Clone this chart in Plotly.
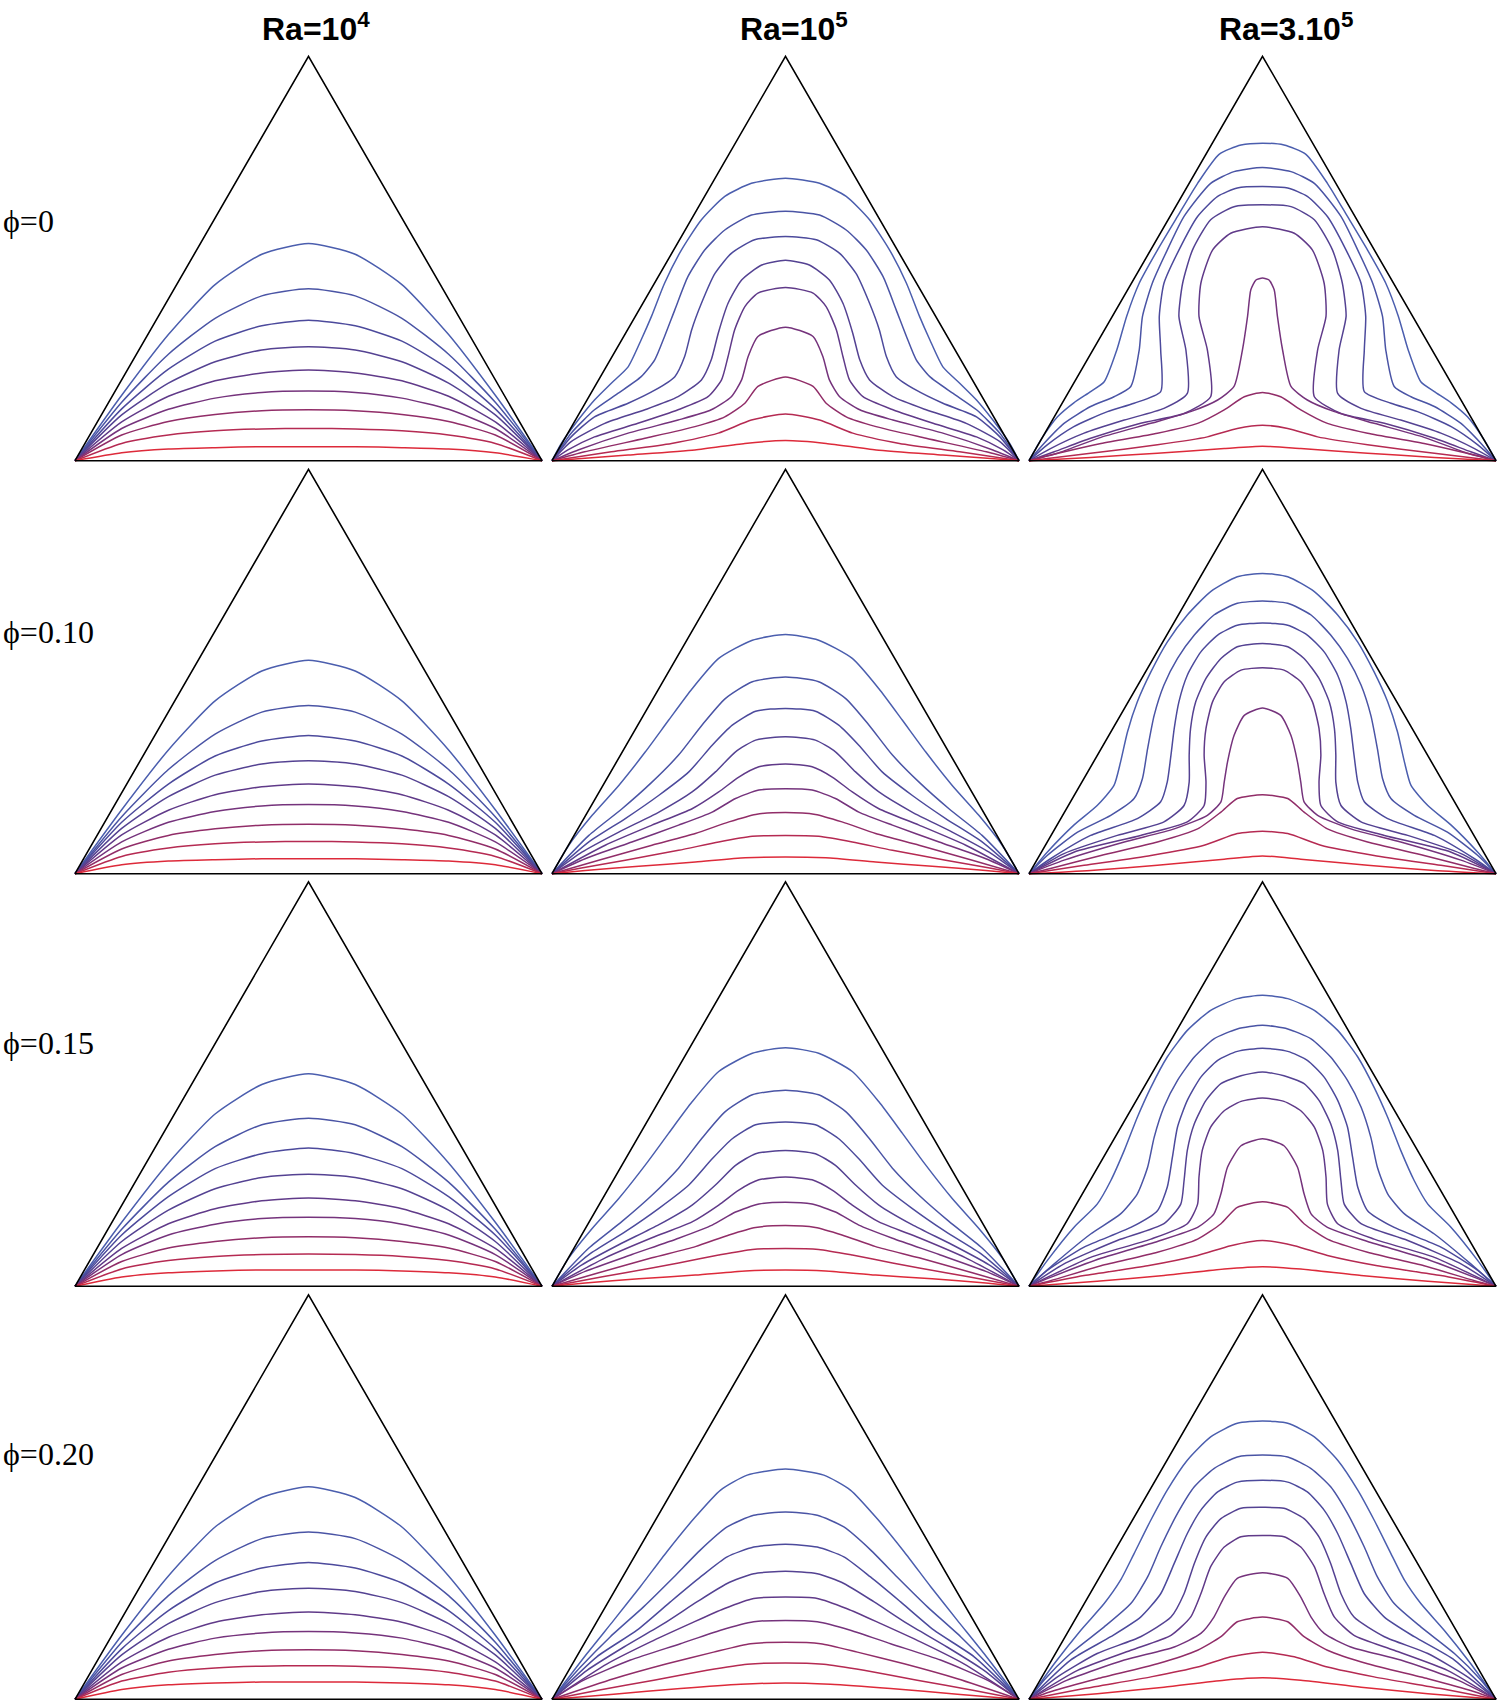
import plotly.graph_objects as go

# ---------------- data ----------------
COL_TITLES = ["<b>Ra=10<sup>4</sup></b>", "<b>Ra=10<sup>5</sup></b>", "<b>Ra=3.10<sup>5</sup></b>"]
ROW_LABELS = ["ϕ=0", "ϕ=0.10", "ϕ=0.15", "ϕ=0.20"]

# triangular cavity outline (base = 100 units, equilateral)
TRI_X = [0, 50, 100, 0]
TRI_Y = [0, 86.6, 0, 0]

# isotherms: left half of each line, from the bottom-left corner to the centre line,
# as [x, y] points (cavity base = 100 units); lines listed top (cold) -> bottom (hot)
R1_C1 = [
    [[10, 14.0], [20, 27.0], [30, 37.7], [40, 44.2], [50, 46.5]],
    [[10, 12.5], [20, 22.8], [30, 30.5], [40, 35.3], [50, 36.8]],
    [[10, 11.1], [20, 19.6], [30, 25.6], [40, 28.9], [50, 30.1]],
    [[10, 9.8], [20, 16.6], [30, 21.2], [40, 23.7], [50, 24.4]],
    [[10, 8.3], [20, 13.8], [30, 17.1], [40, 18.8], [50, 19.4]],
    [[10, 6.9], [20, 11.0], [30, 13.4], [40, 14.6], [50, 14.9]],
    [[10, 5.5], [20, 8.4], [30, 9.9], [40, 10.7], [50, 10.9]],
    [[10, 3.7], [20, 5.5], [30, 6.4], [40, 6.8], [50, 6.9]],
    [[10, 1.7], [20, 2.5], [30, 2.8], [40, 3.0], [50, 3.0]],
]
R1_C2 = [
    [[2, 3.7], [5.6, 8.7], [9.1, 13], [12.7, 16.6], [16.3, 20.1], [19.1, 25.9], [21.3, 30.9], [24.1, 38], [27.7, 45.1], [32, 51.6], [37, 56.6], [42.7, 59.4], [50, 60.5]],
    [[4.1, 5.9], [9.1, 10.9], [14.1, 14.4], [19.1, 18], [22, 21.6], [24.1, 26.6], [26.3, 32.3], [29.1, 39.4], [32.7, 45.1], [37, 49.4], [42.7, 52.6], [50, 53.4]],
    [[4.1, 5.1], [9.1, 9.4], [16.3, 12.3], [22, 15.1], [26.3, 18], [28.4, 22.3], [29.9, 28], [32, 33.7], [34.9, 40.1], [38.4, 44.4], [43.4, 47.3], [50, 48]],
    [[4.1, 4.1], [11.3, 8], [19.9, 10.9], [27, 13.7], [32, 17.3], [34.1, 21.6], [35.6, 27.3], [37.7, 33.7], [40.6, 38.7], [44.9, 41.9], [50, 42.9]],
    [[3.4, 2.3], [9.1, 5.1], [18.4, 8], [27, 10.9], [33.4, 13.7], [36.3, 17.3], [37.7, 22.3], [39.1, 28], [41.3, 33], [44.1, 35.9], [50, 37.1]],
    [[5.6, 2.3], [16.3, 5.9], [27, 8.7], [34.1, 10.9], [38.4, 13.7], [40.6, 17.3], [42, 22.3], [44.1, 26.6], [50, 28.6]],
    [[7, 1.9], [19.9, 4.8], [30.6, 7.3], [37, 9.4], [41.3, 12.3], [44.1, 15.9], [50, 17.9]],
    [[12.7, 1.9], [25.6, 3.7], [35.6, 5.9], [42.7, 8.7], [50, 10]],
    [[16.3, 1.2], [30.6, 2.3], [41.3, 3.7], [50, 4.3]],
]
R1_C3 = [
    [[2.5, 4.4], [6.1, 9.4], [9.6, 12.4], [13.2, 14.8], [16.1, 16.9], [18.8, 23.7], [20.9, 30.9], [23.6, 38], [27.5, 45.1], [31.8, 52.3], [36.1, 59.4], [40.7, 65.6], [45.4, 67.6], [50, 68]],
    [[3.2, 3.7], [7.5, 8], [13.2, 11.6], [18.2, 13.7], [21.8, 15.9], [23.6, 23.7], [24.3, 30.9], [26.4, 38], [29.6, 45.1], [33.2, 52.3], [38.9, 59.4], [43.9, 61.9], [50, 62.8]],
    [[3.9, 3.4], [9.6, 7.3], [16.8, 10.5], [22.5, 12.3], [28.2, 14.8], [28.2, 23.7], [27.9, 30.9], [28.9, 38], [32.1, 45.1], [36.1, 52.3], [40.4, 56.6], [44.6, 58.4], [50, 58.7]],
    [[4.6, 2.6], [11.8, 5.9], [20.4, 8.7], [28.9, 11.2], [33.9, 14.4], [33.6, 23.7], [32.1, 30.9], [32.9, 38], [35, 45.1], [38.9, 51.6], [43.9, 54.4], [50, 54.8]],
    [[5.4, 1.9], [13.2, 4.8], [23.9, 8.0], [33.2, 10.1], [38.9, 13.7], [38.2, 23.7], [36.4, 30.9], [36.8, 38], [39.3, 45.1], [43.2, 48.7], [50, 50.1]],
    [[6.1, 1.6], [15.4, 5.0], [26.1, 8.0], [34.6, 10.5], [40.4, 13], [43.9, 15.9], [45.7, 23.7], [46.8, 30.9], [47.5, 36.6], [48.6, 38.7], [50, 39.1]],
    [[4.6, 1.2], [15.4, 3.7], [27.5, 5.9], [36.1, 8], [41.8, 10.9], [46.1, 13.7], [50, 14.6]],
    [[13.2, 1.6], [27.5, 3.4], [38.2, 5.1], [44.6, 6.9], [50, 7.6]],
    [[13.2, 0.7], [27.5, 1.6], [41.8, 2.6], [50, 3.1]],
]
R2_C1 = [
    [[10, 13.7], [20, 26.5], [30, 37.0], [40, 43.4], [50, 45.7]],
    [[10, 12.2], [20, 22.3], [30, 29.9], [40, 34.6], [50, 36.0]],
    [[10, 11.0], [20, 19.2], [30, 25.2], [40, 28.4], [50, 29.6]],
    [[10, 9.7], [20, 16.5], [30, 21.1], [40, 23.5], [50, 24.2]],
    [[10, 8.3], [20, 13.6], [30, 16.9], [40, 18.6], [50, 19.2]],
    [[10, 6.8], [20, 11.0], [30, 13.3], [40, 14.5], [50, 14.8]],
    [[10, 5.3], [20, 8.2], [30, 9.6], [40, 10.4], [50, 10.6]],
    [[10, 3.7], [20, 5.5], [30, 6.4], [40, 6.8], [50, 6.9]],
    [[10, 1.9], [20, 2.7], [30, 3.0], [40, 3.2], [50, 3.2]],
]
R2_C2 = [
    [[3.6, 6.1], [8.6, 12.5], [14.3, 18.9], [20, 26.1], [25, 32.9], [30, 39.6], [35.7, 46.1], [42.9, 50], [50, 51.2]],
    [[7.9, 8.2], [15, 13.9], [21.4, 19.6], [27.1, 25.4], [32.1, 31.8], [37.1, 37.5], [42.9, 41.1], [50, 42.1]],
    [[7.9, 6.8], [15.7, 11.8], [22.9, 16.8], [29.3, 21.8], [34.3, 27.5], [38.6, 31.8], [43.6, 34.8], [50, 35.4]],
    [[6.4, 4.6], [14.3, 8.9], [22.9, 13.2], [30, 17.5], [35, 21.8], [39.3, 26.1], [43.6, 28.6], [50, 29.3]],
    [[11.4, 6.1], [21.4, 10.4], [30, 13.9], [35.7, 17.5], [40, 20.7], [44.3, 22.9], [50, 23.5]],
    [[7.1, 3.2], [17.1, 6.8], [27.1, 10.4], [34.3, 13.2], [39.3, 16.1], [44.3, 17.9], [50, 18.2]],
    [[10, 2.9], [21.4, 6.1], [30.7, 8.6], [37.9, 11.1], [43.6, 12.7], [50, 13.1]],
    [[5.7, 1.1], [15.7, 2.9], [27.1, 5], [35.7, 6.8], [42.9, 8], [50, 8.2]],
    [[7.1, 0.7], [18.6, 1.6], [30.7, 2.5], [41.4, 3.4], [50, 3.6]],
]
R2_C3 = [
    [[3.9, 4.6], [9.6, 10.4], [14.6, 14.6], [18.2, 18.9], [19.6, 23.9], [21.1, 30.4], [23.2, 36.8], [26.1, 43.2], [29.6, 49.6], [33.9, 55.4], [38.9, 60.4], [44.6, 63.6], [50, 64.3]],
    [[3.9, 3.9], [10.4, 8.9], [17.5, 12.5], [22.5, 16.1], [24.3, 20.4], [25.4, 26.8], [26.8, 33.9], [28.9, 40.4], [31.8, 46.1], [35.4, 51.1], [39.6, 55.4], [44.6, 57.9], [50, 58.4]],
    [[4.6, 3.2], [13.2, 8.2], [23.2, 11.8], [28.2, 15.4], [29.6, 19.6], [30.4, 25.4], [31.1, 31.1], [32.1, 36.8], [33.9, 42.5], [36.8, 47.5], [40.4, 51.1], [44.6, 53.2], [50, 53.7]],
    [[7.5, 4.3], [18.9, 8.2], [28.9, 11.1], [33.2, 14.6], [34.3, 19.6], [34.3, 25.4], [34.6, 31.1], [35.7, 36.8], [37.9, 41.8], [41.1, 46.1], [44.6, 48.6], [50, 49.3]],
    [[9.6, 4.6], [23.9, 8.2], [33.9, 11.1], [37.5, 14.6], [37.9, 19.6], [37.5, 25.4], [37.9, 31.1], [39.3, 36.8], [41.8, 41.1], [45.4, 43.6], [50, 44.1]],
    [[7.5, 2.9], [20.4, 6.8], [31.1, 9.6], [38.2, 12.5], [41.1, 15.4], [41.8, 19.6], [42.5, 23.9], [43.9, 29.6], [46.1, 33.9], [50, 35.5]],
    [[4.6, 1.1], [15.4, 3.9], [27.5, 6.8], [36.1, 9.6], [41.1, 13.2], [44.6, 16.1], [50, 16.9]],
    [[11.8, 1.8], [26.1, 3.9], [37.5, 6.1], [44.6, 8.6], [50, 9.1]],
    [[13.2, 0.7], [27.5, 1.8], [41.8, 3.1], [50, 3.8]],
]
R3_C1 = [
    [[10, 13.7], [20, 26.4], [30, 36.9], [40, 43.2], [50, 45.5]],
    [[10, 12.2], [20, 22.3], [30, 29.9], [40, 34.6], [50, 36.0]],
    [[10, 11.0], [20, 19.2], [30, 25.2], [40, 28.4], [50, 29.6]],
    [[10, 9.6], [20, 16.3], [30, 20.9], [40, 23.3], [50, 24.0]],
    [[10, 8.1], [20, 13.4], [30, 16.6], [40, 18.3], [50, 18.9]],
    [[10, 6.8], [20, 11.0], [30, 13.3], [40, 14.5], [50, 14.8]],
    [[10, 5.3], [20, 8.2], [30, 9.6], [40, 10.4], [50, 10.6]],
    [[10, 3.7], [20, 5.5], [30, 6.4], [40, 6.8], [50, 6.9]],
    [[10, 2.0], [20, 2.9], [30, 3.3], [40, 3.5], [50, 3.5]],
]
R3_C2 = [
    [[3.6, 6.1], [8.6, 12.4], [14.3, 18.8], [20, 26.0], [25, 32.8], [30, 39.5], [35.7, 46.0], [42.9, 49.9], [50, 51.1]],
    [[7.9, 8.2], [15, 13.9], [21.4, 19.5], [27.1, 25.3], [32.1, 31.7], [37.1, 37.4], [42.9, 41.0], [50, 42.0]],
    [[7.9, 6.8], [15.7, 11.7], [22.9, 16.7], [29.3, 21.7], [34.3, 27.3], [38.6, 31.6], [43.6, 34.6], [50, 35.2]],
    [[6.4, 4.6], [14.3, 8.9], [22.9, 13.2], [30, 17.4], [35, 21.7], [39.3, 25.9], [43.6, 28.4], [50, 29.1]],
    [[11.4, 6.1], [21.4, 10.4], [30, 13.8], [35.7, 17.4], [40, 20.6], [44.3, 22.8], [50, 23.4]],
    [[7.1, 3.2], [17.1, 6.8], [27.1, 10.3], [34.3, 13.1], [39.3, 15.9], [44.3, 17.6], [50, 18.0]],
    [[10, 2.9], [21.4, 6.1], [30.7, 8.5], [37.9, 11.0], [43.6, 12.6], [50, 13.0]],
    [[5.7, 1.1], [15.7, 2.9], [27.1, 5], [35.7, 6.7], [42.9, 7.9], [50, 8.1]],
    [[7.1, 0.7], [18.6, 1.6], [30.7, 2.4], [41.4, 3.3], [50, 3.5]],
]
R3_C3 = [
    [[3.9, 5.5], [9.6, 12.6], [14.6, 17.6], [17.5, 22.6], [20.4, 29.1], [23.2, 36.2], [26.1, 42.6], [29.6, 49.1], [33.9, 54.8], [38.9, 59.1], [44.6, 61.6], [50, 62.3]],
    [[5.4, 4.8], [13.2, 11.2], [19.6, 15.5], [23.2, 19.8], [25.4, 25.5], [26.8, 31.9], [28.9, 38.4], [31.8, 44.1], [35.4, 49.1], [39.6, 53], [44.6, 55.1], [50, 55.9]],
    [[3.9, 3.4], [11.8, 8.4], [21.8, 12.6], [27.5, 16.2], [29.6, 21.2], [30.7, 27.6], [31.8, 34.1], [33.9, 39.8], [36.8, 44.8], [40.4, 48.4], [44.6, 50.3], [50, 51]],
    [[7.5, 4.8], [18.9, 9.8], [28.9, 13.4], [32.5, 17.6], [33.2, 22.6], [33.9, 29.1], [35.4, 34.8], [37.9, 39.8], [41.1, 43.4], [45.4, 45.1], [50, 45.9]],
    [[3.9, 1.9], [13.2, 6.2], [26.1, 10.1], [33.9, 13.4], [36.1, 17.6], [36.4, 23.4], [37.1, 29.1], [38.9, 34.1], [41.8, 37.6], [45.4, 39.6], [50, 40.3]],
    [[4.6, 1.9], [15.4, 6.0], [27.5, 9.6], [36.1, 12.6], [39.6, 15.5], [41.1, 19.8], [42.5, 25.5], [45.4, 30.1], [50, 31.6]],
    [[4.6, 1.2], [15.4, 4.4], [27.5, 7.3], [36.1, 10.1], [41.1, 13.4], [44.6, 16.9], [50, 18.1]],
    [[11.8, 2.3], [25.4, 4.4], [36.1, 6.6], [43.2, 8.7], [50, 9.8]],
    [[14.6, 1.1], [28.9, 2.3], [41.8, 3.7], [50, 4.2]],
]
R4_C1 = [
    [[10, 13.7], [20, 26.4], [30, 36.9], [40, 43.2], [50, 45.5]],
    [[10, 12.2], [20, 22.2], [30, 29.7], [40, 34.4], [50, 35.8]],
    [[10, 10.8], [20, 19.0], [30, 24.9], [40, 28.1], [50, 29.3]],
    [[10, 9.5], [20, 16.2], [30, 20.7], [40, 23.1], [50, 23.8]],
    [[10, 8.0], [20, 13.3], [30, 16.5], [40, 18.1], [50, 18.7]],
    [[10, 6.7], [20, 10.7], [30, 13.1], [40, 14.2], [50, 14.5]],
    [[10, 5.3], [20, 8.2], [30, 9.6], [40, 10.4], [50, 10.6]],
    [[10, 3.9], [20, 5.8], [30, 6.7], [40, 7.1], [50, 7.2]],
    [[10, 2.1], [20, 3.1], [30, 3.5], [40, 3.7], [50, 3.7]],
]
R4_C2 = [
    [[7.5, 9.8], [13.2, 16.9], [18.9, 24.1], [24.6, 31.6], [30.4, 38.7], [36.1, 44.8], [41.8, 48], [50, 49.3]],
    [[6.1, 6.9], [12.5, 13.4], [19.6, 19.8], [26.1, 26.2], [31.8, 32], [37.5, 36.9], [43.2, 39.4], [50, 40.1]],
    [[9.6, 9.1], [18.2, 14.8], [25.4, 20.9], [31.8, 26.2], [37.5, 30.5], [43.2, 32.6], [50, 33.2]],
    [[7.5, 6.2], [15.4, 11.2], [23.9, 16.2], [31.1, 20.9], [37.5, 24.8], [43.2, 26.9], [50, 27.4]],
    [[11.8, 7.6], [21.1, 12.3], [29.6, 16.2], [36.8, 19.4], [43.2, 21.6], [50, 21.9]],
    [[6.8, 4.1], [16.8, 8.4], [27.5, 11.9], [36.1, 14.8], [43.2, 16.6], [50, 16.9]],
    [[13.2, 4.4], [24.6, 7.6], [34.6, 10.1], [42.5, 11.9], [50, 12.2]],
    [[9.6, 1.9], [21.8, 4.1], [33.2, 6.2], [41.8, 7.5], [50, 7.8]],
    [[13.2, 1.1], [27.5, 2.3], [40.4, 3.2], [50, 3.5]],
]
R4_C3 = [
    [[5.4, 7.6], [11.1, 14.8], [16.1, 20.5], [19.6, 25.5], [22.5, 31.2], [26.1, 38.4], [29.6, 44.8], [33.9, 51.2], [38.9, 56.2], [44.6, 59.1], [50, 59.6]],
    [[3.2, 4.1], [8.9, 9.8], [16.1, 15.5], [21.8, 20.5], [25.4, 26.2], [28.2, 32.6], [31.8, 39.8], [35.4, 45.5], [39.6, 49.4], [44.6, 51.9], [50, 52.3]],
    [[8.9, 8.4], [17.5, 13.4], [23.9, 17.6], [28.2, 22.6], [31.1, 29.1], [33.9, 35.5], [36.8, 40.5], [40.4, 44.4], [44.6, 46.5], [50, 46.9]],
    [[6.1, 4.8], [14.6, 9.8], [23.9, 13.4], [30.4, 17.6], [33.2, 22.6], [35.4, 29.1], [37.9, 34.8], [41.1, 38.7], [45.4, 40.9], [50, 41.1]],
    [[10.4, 6.2], [21.8, 10.5], [30.4, 13.7], [34.6, 17.6], [36.8, 22.6], [38.9, 28.4], [41.8, 32.6], [45.4, 34.8], [50, 35.1]],
    [[8.2, 4.1], [20.4, 8.4], [31.1, 11.2], [36.8, 14.1], [39.6, 17.6], [41.8, 21.9], [44.6, 25.9], [50, 27.1]],
    [[4.6, 1.6], [14.6, 4.4], [27.5, 7.6], [36.1, 10.5], [41.1, 13.4], [44.6, 16.6], [50, 17.6]],
    [[11.8, 2.3], [26.1, 4.8], [36.1, 6.9], [43.2, 9.1], [50, 10.1]],
    [[14.6, 1.2], [28.9, 2.6], [41.8, 4.1], [50, 4.6]],
]

PANELS = [
    [R1_C1, R1_C2, R1_C3],
    [R2_C1, R2_C2, R2_C3],
    [R3_C1, R3_C2, R3_C3],
    [R4_C1, R4_C2, R4_C3],
]

# ---------------- style ----------------
LINE_COLORS = ["#4b5eae", "#4a54a5", "#4c4a9c", "#544292", "#603a89", "#75337c",
               "#912d68", "#b52a52", "#dd2a3a"]

W, H = 1501, 1702
PX = 4.67                      # pixels per data unit
COL_X0 = [75, 552, 1029]       # pixel x of the bottom-left corner of each column
ROW_BASE = [460.7, 873.7, 1286.3, 1699.3]  # pixel y of the base of each row
XR = [-1.0, 101.0]
YR = [-0.4, 87.2]
TITLE_X = [316, 794, 1286]
TITLE_Y = 27
LABEL_Y = [221, 632, 1043, 1454]

fig = go.Figure()
layout = {}
for r in range(4):
    for c in range(3):
        k = r * 3 + c + 1
        sfx = "" if k == 1 else str(k)
        x0 = COL_X0[c] + XR[0] * PX
        x1 = COL_X0[c] + XR[1] * PX
        ytop = ROW_BASE[r] - YR[1] * PX
        ybot = ROW_BASE[r] - YR[0] * PX
        layout["xaxis" + sfx] = dict(domain=[x0 / W, x1 / W], range=XR, visible=False,
                                     fixedrange=True, anchor="y" + sfx)
        layout["yaxis" + sfx] = dict(domain=[1 - ybot / H, 1 - ytop / H], range=YR,
                                     visible=False, fixedrange=True, anchor="x" + sfx)
        for i, curve in enumerate(PANELS[r][c]):
            left = [[0, 0]] + curve
            right = [[100 - p[0], p[1]] for p in reversed(curve[:-1])] + [[100, 0]]
            pts = left + right
            fig.add_trace(go.Scatter(
                x=[p[0] for p in pts], y=[p[1] for p in pts], mode="lines",
                line=dict(color=LINE_COLORS[i], width=1.5, shape="spline", smoothing=0.6),
                xaxis="x" + sfx, yaxis="y" + sfx, hoverinfo="skip", showlegend=False))
        fig.add_trace(go.Scatter(
            x=TRI_X, y=TRI_Y, mode="lines", line=dict(color="#000000", width=1.6),
            xaxis="x" + sfx, yaxis="y" + sfx, hoverinfo="skip", showlegend=False))

annotations = []
for c, t in enumerate(COL_TITLES):
    annotations.append(dict(text=t, x=TITLE_X[c] / W, y=1 - TITLE_Y / H, xref="paper", yref="paper",
                            xanchor="center", yanchor="middle", showarrow=False,
                            font=dict(family="Liberation Sans, Arial, sans-serif", size=32, color="#000")))
for r, t in enumerate(ROW_LABELS):
    annotations.append(dict(text=t, x=1 / W, y=1 - LABEL_Y[r] / H, xref="paper", yref="paper",
                            xanchor="left", yanchor="middle", showarrow=False,
                            font=dict(family="Liberation Serif, Times New Roman, DejaVu Serif, serif",
                                      size=32, color="#000")))

fig.update_layout(**layout)
fig.update_layout(width=W, height=H, margin=dict(l=0, r=0, t=0, b=0),
                  paper_bgcolor="white", plot_bgcolor="white", showlegend=False,
                  annotations=annotations)
fig.write_html("out.html", config={"displayModeBar": False},
               post_script="document.body.style.margin='0px';document.body.style.overflow='hidden';")
